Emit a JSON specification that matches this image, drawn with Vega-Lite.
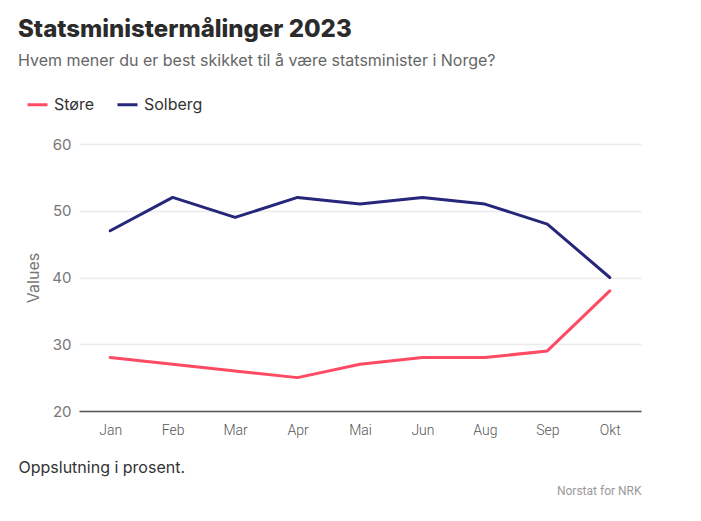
{
  "$schema": "https://vega.github.io/schema/vega-lite/v6.json",
  "autosize": {"type": "none"},
  "width": 562,
  "height": 267,
  "padding": {"left": 79, "top": 144, "right": 60, "bottom": 110},
  "background": "white",
  "title": {
    "text": "Statsministermålinger 2023",
    "subtitle": "Hvem mener du er best skikket til å være statsminister i Norge?",
    "anchor": "start",
    "frame": "group",
    "dx": -61,
    "offset": 24,
    "font": "Inter",
    "fontSize": 24,
    "fontWeight": 800,
    "color": "#2b2b2b",
    "subtitleFont": "Inter",
    "subtitleFontSize": 16,
    "subtitleColor": "#666666",
    "subtitlePadding": 11
  },
  "config": {
    "view": {"stroke": null},
    "font": "Inter"
  },
  "data": {
    "values": [
      {"month": "Jan", "name": "Støre", "value": 28},
      {"month": "Feb", "name": "Støre", "value": 27},
      {"month": "Mar", "name": "Støre", "value": 26},
      {"month": "Apr", "name": "Støre", "value": 25},
      {"month": "Mai", "name": "Støre", "value": 27},
      {"month": "Jun", "name": "Støre", "value": 28},
      {"month": "Aug", "name": "Støre", "value": 28},
      {"month": "Sep", "name": "Støre", "value": 29},
      {"month": "Okt", "name": "Støre", "value": 38},
      {"month": "Jan", "name": "Solberg", "value": 47},
      {"month": "Feb", "name": "Solberg", "value": 52},
      {"month": "Mar", "name": "Solberg", "value": 49},
      {"month": "Apr", "name": "Solberg", "value": 52},
      {"month": "Mai", "name": "Solberg", "value": 51},
      {"month": "Jun", "name": "Solberg", "value": 52},
      {"month": "Aug", "name": "Solberg", "value": 51},
      {"month": "Sep", "name": "Solberg", "value": 48},
      {"month": "Okt", "name": "Solberg", "value": 40}
    ]
  },
  "resolve": {"axis": {"x": "independent"}},
  "layer": [
    {
      "mark": {"type": "line", "strokeWidth": 3, "strokeCap": "round", "strokeJoin": "round"},
      "encoding": {
        "x": {
          "field": "month",
          "type": "ordinal",
          "sort": ["Jan", "Feb", "Mar", "Apr", "Mai", "Jun", "Aug", "Sep", "Okt"],
          "scale": {"type": "point", "padding": 0.5},
          "axis": {
            "orient": "bottom",
            "title": "Oppslutning i prosent.",
            "titleX": -61,
            "titleY": 56,
            "titleAlign": "left",
            "titleAnchor": null,
            "titleBaseline": "middle",
            "titleFont": "Inter",
            "titleFontSize": 16,
            "titleFontWeight": "normal",
            "titleColor": "#333333",
            "labelAngle": 0,
            "labelFont": "Roboto",
            "labelFontWeight": 300,
            "labelFontSize": 14,
            "labelColor": "#555555",
            "labelPadding": 12,
            "ticks": false,
            "grid": false,
            "domainColor": "#555555",
            "domainWidth": 1.5
          }
        },
        "y": {
          "field": "value",
          "type": "quantitative",
          "scale": {"domain": [20, 60]},
          "axis": {
            "title": "Values",
            "values": [20, 30, 40, 50, 60],
            "titleFont": "Inter",
            "titleFontSize": 16,
            "titleFontWeight": "normal",
            "titleColor": "#777777",
            "titlePadding": 10,
            "labelFont": "Inter",
            "labelFontSize": 15,
            "labelColor": "#777777",
            "labelPadding": 8,
            "ticks": false,
            "domain": false,
            "gridColor": "#ebebeb",
            "gridWidth": 1.5
          }
        },
        "color": {
          "field": "name",
          "type": "nominal",
          "sort": ["Støre", "Solberg"],
          "scale": {"domain": ["Støre", "Solberg"], "range": ["#ff4a64", "#26267a"]},
          "legend": {
            "title": null,
            "orient": "none",
            "direction": "horizontal",
            "legendX": -53,
            "legendY": -51,
            "symbolType": "stroke",
            "symbolStrokeWidth": 3,
            "symbolSize": 400,
            "labelFont": "Inter",
            "labelFontSize": 16,
            "labelColor": "#333333",
            "columnPadding": 16,
            "labelOffset": 5
          }
        }
      }
    },
    {
      "mark": {"type": "line", "opacity": 0},
      "encoding": {
        "x": {
          "field": "month",
          "type": "ordinal",
          "sort": ["Jan", "Feb", "Mar", "Apr", "Mai", "Jun", "Aug", "Sep", "Okt"],
          "axis": {
            "orient": "bottom",
            "title": "Norstat for NRK",
            "titleX": 562,
            "titleY": 79,
            "titleAlign": "right",
            "titleAnchor": null,
            "titleBaseline": "middle",
            "titleFont": "Roboto",
            "titleFontSize": 12,
            "titleFontWeight": "normal",
            "titleColor": "#999999",
            "labels": false,
            "ticks": false,
            "domain": false,
            "grid": false
          }
        },
        "y": {"field": "value", "type": "quantitative"},
        "detail": {"field": "name"}
      }
    }
  ]
}
